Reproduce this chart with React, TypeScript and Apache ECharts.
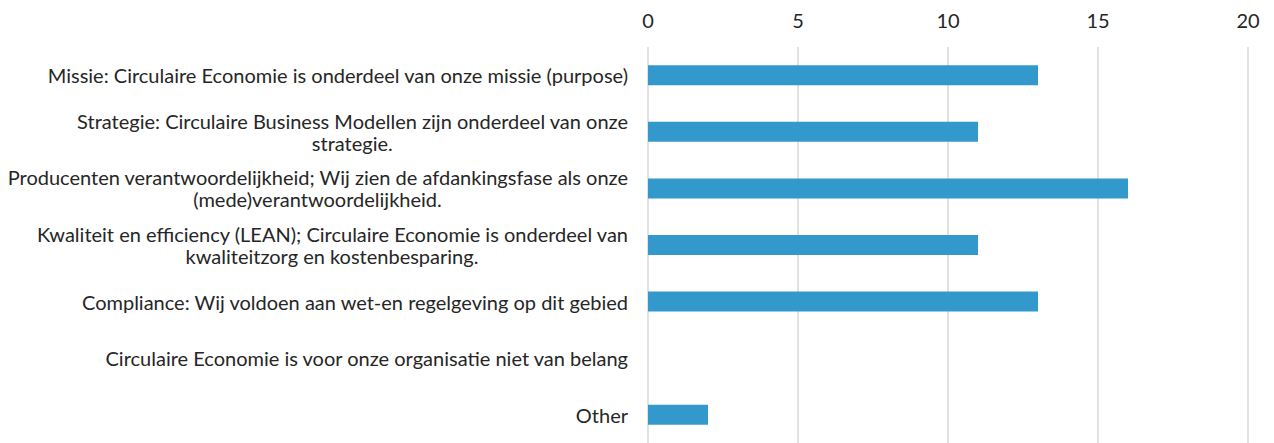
import React, { useEffect, useRef } from "react";
import * as echarts from "echarts";

const categories: string[] = [
  "Missie: Circulaire Economie is onderdeel van onze missie (purpose)",
  "Strategie: Circulaire Business Modellen zijn onderdeel van onze\nstrategie.",
  "Producenten verantwoordelijkheid; Wij zien de afdankingsfase als onze\n(mede)verantwoordelijkheid.",
  "Kwaliteit en efficiency (LEAN); Circulaire Economie is onderdeel van\nkwaliteitzorg en kostenbesparing.",
  "Compliance: Wij voldoen aan wet-en regelgeving op dit gebied",
  "Circulaire Economie is voor onze organisatie niet van belang",
  "Other",
];
const values: number[] = [13, 11, 16, 11, 13, 0, 2];
const axisMin = 0;
const axisMax = 20;
const axisInterval = 5;

const FONT = "Lato, 'Open Sans', sans-serif";
const FS = 20;
const COLOR = "#262626";

export default function App() {
  const ref = useRef<HTMLDivElement>(null);
  useEffect(() => {
    if (!ref.current) return;
    const c = document.createElement("canvas");
    const ctx = c.getContext("2d");
    const w = (t: string) => {
      if (!ctx) return t.length * FS * 0.45;
      ctx.font = `normal normal ${FS}px ${FONT}`;
      return ctx.measureText(t).width;
    };
    const rich: Record<string, any> = {};
    categories.forEach((cat, i) => {
      const lines = cat.split("\n");
      const widths = lines.map(w);
      const W = Math.max(...widths);
      lines.forEach((_, j) => {
        rich[`r${i}_${j}`] = {
          color: COLOR,
          fontFamily: FONT,
          fontSize: FS,
          lineHeight: 22,
          padding: [0, (W - widths[j]) / 2, 0, 0],
        };
      });
    });
    const chart = echarts.init(ref.current, undefined, { renderer: "svg" });
    chart.setOption({
      animation: false,
      backgroundColor: "#ffffff",
      grid: { left: 648, right: 26, top: 47, height: 404, containLabel: false },
      xAxis: {
        type: "value",
        position: "top",
        min: axisMin,
        max: axisMax,
        interval: axisInterval,
        axisLine: { show: false },
        axisTick: { show: false },
        axisLabel: { color: COLOR, fontFamily: FONT, fontSize: FS, margin: 17 },
        splitLine: { show: true, lineStyle: { color: "#d9d9d9", width: 1.5 } },
      },
      yAxis: {
        type: "category",
        inverse: true,
        data: categories,
        axisLine: { show: false },
        axisTick: { show: false },
        axisLabel: {
          color: COLOR,
          fontFamily: FONT,
          fontSize: FS,
          lineHeight: 22,
          align: "right",
          margin: 20,
          formatter: (v: string, idx: number) =>
            v
              .split("\n")
              .map((l, j) => `{r${idx}_${j}|${l}}`)
              .join("\n"),
          rich,
        },
      },
      series: [
        {
          type: "bar",
          data: values,
          barWidth: 20,
          itemStyle: { color: "#3399cc" },
        },
      ],
    });
    return () => chart.dispose();
  }, []);
  return (
    <div
      ref={ref}
      style={{ position: "fixed", left: 0, top: 0, width: 1274, height: 443 }}
    />
  );
}
